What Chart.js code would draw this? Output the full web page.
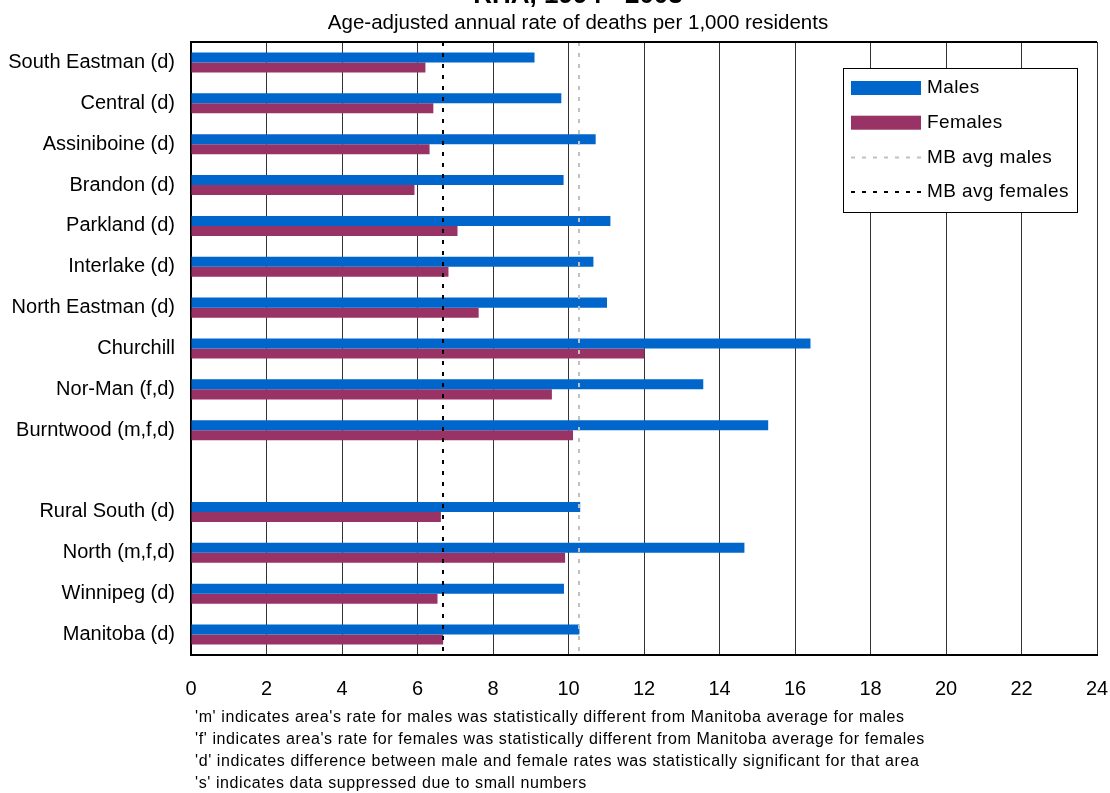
<!DOCTYPE html>
<html>
<head>
<meta charset="utf-8">
<title>Mortality by RHA, 1994 - 2003</title>
<script src="https://cdn.jsdelivr.net/npm/chart.js@4.4.1/dist/chart.umd.min.js"></script>
<style>
    html, body { margin: 0; padding: 0; background: #fff; }
    #wrap { width: 1110px; height: 793px; position: relative; }
</style>
</head>
<body>
<div id="wrap"><canvas id="rhaChart" width="1110" height="793"></canvas></div>

<script>
/* ==========================================
   DATA
========================================== */

const REGIONS = [
    "South Eastman (d)", "Central (d)", "Assiniboine (d)", "Brandon (d)",
    "Parkland (d)", "Interlake (d)", "North Eastman (d)", "Churchill",
    "Nor-Man (f,d)", "Burntwood (m,f,d)", "",
    "Rural South (d)", "North (m,f,d)", "Winnipeg (d)", "Manitoba (d)"
];

const MALES = [9.10, 9.81, 10.72, 9.87, 11.11, 10.66, 11.02, 16.41, 13.57, 15.29, null, 10.31, 14.66, 9.88, 10.29];

const FEMALES = [6.21, 6.42, 6.32, 5.92, 7.06, 6.82, 7.62, 12.01, 9.56, 10.12, null, 6.62, 9.91, 6.53, 6.68];

// Manitoba averages, drawn as full-height reference lines
const AVG_LABELS = ["MB avg males", "MB avg females"];
const AVG_VALUES = [10.29, 6.68];
const AVG_COLORS = ["#C0C0C0", "#000000"];

const X_TICKS = [0, 2, 4, 6, 8, 10, 12, 14, 16, 18, 20, 22, 24];

const TITLE = "RHA, 1994 - 2003";
const SUBTITLE = "Age-adjusted annual rate of deaths per 1,000 residents";

const FOOTNOTES = [
    "'m' indicates area's rate for males was statistically different from Manitoba average for males",
    "'f' indicates area's rate for females was statistically different from Manitoba average for females",
    "'d' indicates difference between male and female rates was statistically significant for that area",
    "'s' indicates data suppressed due to small numbers"
];

const FONT = "'Liberation Sans', Arial, sans-serif";
const AVG_DASH = [4, 7];


/* ==========================================
   AVERAGE LINES PLUGIN
========================================== */

const avgLines = {
    id: "avgLines",
    afterDatasetsDraw(chart){
        const ctx = chart.ctx;
        const area = chart.chartArea;
        const xScale = chart.scales.x;
        ctx.save();
        ctx.lineWidth = 2;
        ctx.setLineDash(AVG_DASH);
        AVG_VALUES.forEach((v, i)=>{
            const px = Math.round(xScale.getPixelForValue(v));
            ctx.strokeStyle = AVG_COLORS[i];
            ctx.beginPath();
            ctx.moveTo(px, area.top);
            ctx.lineTo(px, area.bottom);
            ctx.stroke();
        });
        ctx.restore();
    }
};


/* ==========================================
   TEXT + FRAME PLUGIN
========================================== */

const textPlugin = {
    id: "pageText",
    afterDraw(chart){
        const ctx = chart.ctx;
        const area = chart.chartArea;
        ctx.save();

        // top edge of the plot frame
        ctx.strokeStyle = "#000";
        ctx.lineWidth = 2;
        ctx.beginPath();
        ctx.moveTo(area.left, area.top);
        ctx.lineTo(area.right, area.top);
        ctx.stroke();

        ctx.fillStyle = "#000";
        ctx.textAlign = "center";
        ctx.textBaseline = "alphabetic";
        ctx.font = "bold 26px " + FONT;
        ctx.fillText(TITLE, 578, 3);

        ctx.font = "20.5px " + FONT;
        ctx.fillText(SUBTITLE, 578, 29);

        ctx.textAlign = "left";
        ctx.textBaseline = "middle";
        ctx.font = "16px " + FONT;
        ctx.letterSpacing = "0.6px";
        FOOTNOTES.forEach((line, i)=>{
            ctx.fillText(line, 195, 718 + i * 22);
        });

        ctx.restore();
    }
};


/* ==========================================
   LEGEND PLUGIN
========================================== */

const boxLegend = {
    id: "boxLegend",
    afterDraw(chart){
        const ctx = chart.ctx;
        const box = { x: 843, y: 68, w: 234, h: 144 };
        ctx.save();
        ctx.fillStyle = "#fff";
        ctx.fillRect(box.x, box.y, box.w, box.h);
        ctx.strokeStyle = "#000";
        ctx.lineWidth = 1;
        ctx.strokeRect(box.x + 0.5, box.y + 0.5, box.w, box.h);

        ctx.font = "19px " + FONT;
        ctx.letterSpacing = "0.4px";
        ctx.textBaseline = "middle";
        ctx.textAlign = "left";

        const items = chart.data.datasets.map(ds => ({ label: ds.label, color: ds.backgroundColor, bar: true }))
            .concat(AVG_LABELS.map((label, i) => ({ label, color: AVG_COLORS[i], bar: false })));

        items.forEach((item, i)=>{
            const cy = 88 + i * 34.7;
            if(item.bar){
                ctx.fillStyle = item.color;
                ctx.fillRect(851, cy - 7, 70, 14);
            }else{
                ctx.strokeStyle = item.color;
                ctx.lineWidth = 2;
                ctx.setLineDash(AVG_DASH);
                ctx.beginPath();
                ctx.moveTo(851, cy);
                ctx.lineTo(921, cy);
                ctx.stroke();
                ctx.setLineDash([]);
            }
            ctx.fillStyle = "#000";
            ctx.fillText(item.label, 927, cy);
        });
        ctx.restore();
    }
};


/* ==========================================
   CHART
========================================== */

const ctx = document.getElementById("rhaChart").getContext("2d");

new Chart(ctx, {
    type: "bar",
    data: {
        labels: REGIONS,
        datasets: [
            {
                label: "Males",
                data: MALES,
                backgroundColor: "#0066CC",
                borderWidth: 0
            },
            {
                label: "Females",
                data: FEMALES,
                backgroundColor: "#993366",
                borderWidth: 0
            }
        ]
    },
    options: {
        indexAxis: "y",
        responsive: false,
        animation: false,
        categoryPercentage: 0.49,
        barPercentage: 1.0,
        layout: {
            padding: { top: 42, right: 13, bottom: 0, left: 0 }
        },
        plugins: {
            legend: { display: false },
            title: { display: false },
            tooltip: { enabled: false }
        },
        scales: {
            x: {
                type: "linear",
                min: 0,
                max: 24,
                afterBuildTicks: scale => {
                    scale.ticks = X_TICKS.map(v => ({ value: v }));
                },
                afterFit: scale => {
                    scale.height = 138;
                    scale.paddingLeft = 0;
                    scale.paddingRight = 0;
                },
                grid: {
                    color: "#333",
                    lineWidth: 1,
                    drawTicks: false
                },
                border: { color: "#000", width: 2 },
                ticks: {
                    color: "#000",
                    padding: 22,
                    font: { family: FONT, size: 20 }
                }
            },
            y: {
                type: "category",
                afterFit: scale => { scale.width = 191; },
                grid: { display: false, drawTicks: false },
                border: { color: "#000", width: 2 },
                ticks: {
                    color: "#000",
                    padding: 16,
                    autoSkip: false,
                    font: { family: FONT, size: 20 }
                }
            }
        }
    },
    plugins: [avgLines, textPlugin, boxLegend]
});
</script>
</body>
</html>
